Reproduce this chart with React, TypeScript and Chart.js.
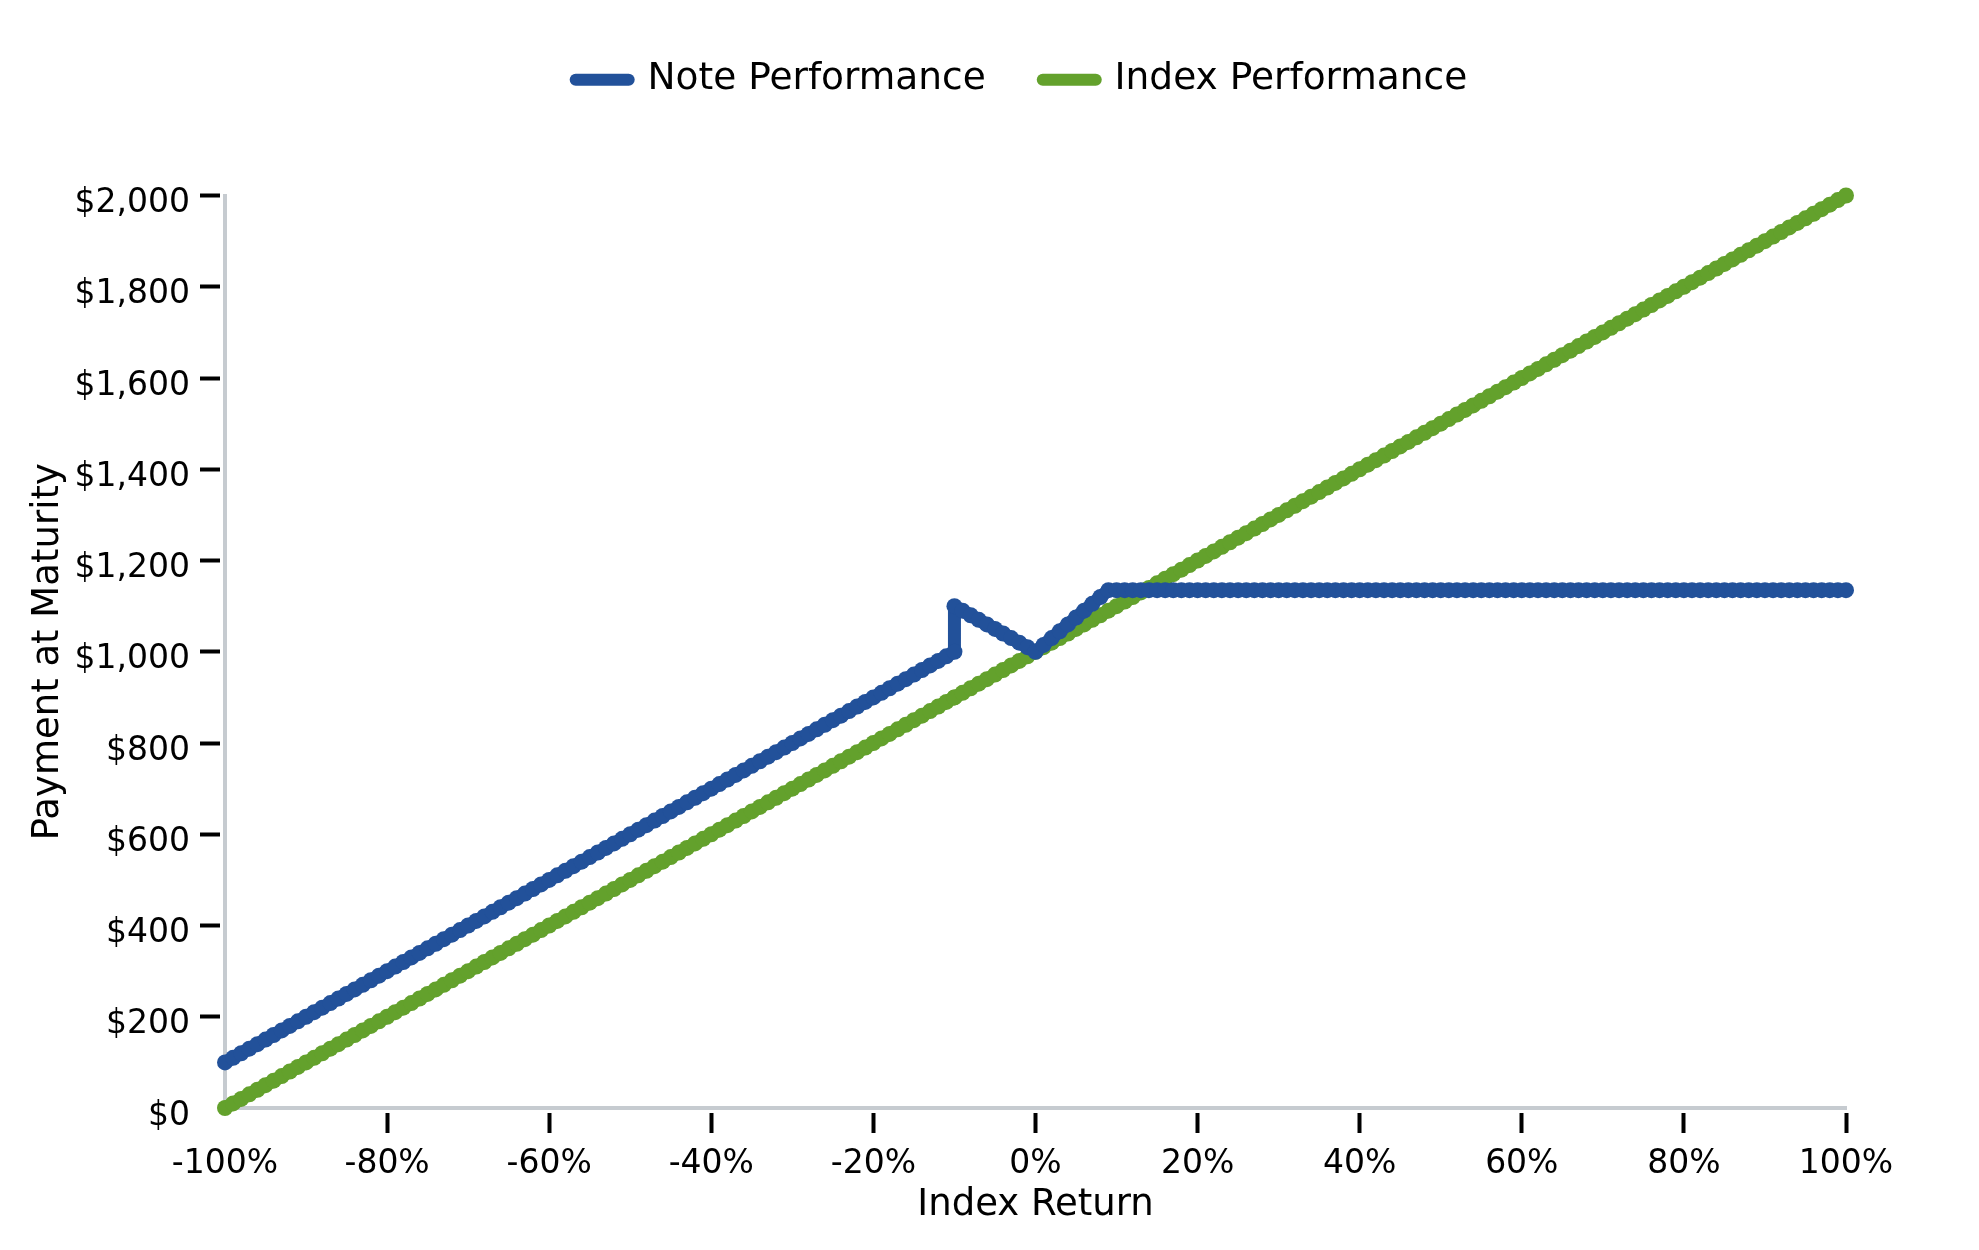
import { useEffect, useRef } from "react";
import { Chart, registerables } from "chart.js";

Chart.register(...registerables);

// Index return (%) per point. -10 is listed twice so the note's jump at -10% is vertical.
const returns = [
  -100, -99, -98, -97, -96, -95, -94, -93, -92, -91,
  -90, -89, -88, -87, -86, -85, -84, -83, -82, -81,
  -80, -79, -78, -77, -76, -75, -74, -73, -72, -71,
  -70, -69, -68, -67, -66, -65, -64, -63, -62, -61,
  -60, -59, -58, -57, -56, -55, -54, -53, -52, -51,
  -50, -49, -48, -47, -46, -45, -44, -43, -42, -41,
  -40, -39, -38, -37, -36, -35, -34, -33, -32, -31,
  -30, -29, -28, -27, -26, -25, -24, -23, -22, -21,
  -20, -19, -18, -17, -16, -15, -14, -13, -12, -11,
  -10, -10, -9, -8, -7, -6, -5, -4, -3, -2, -1,
  0, 1, 2, 3, 4, 5, 6, 7, 8, 9,
  10, 11, 12, 13, 14, 15, 16, 17, 18, 19,
  20, 21, 22, 23, 24, 25, 26, 27, 28, 29,
  30, 31, 32, 33, 34, 35, 36, 37, 38, 39,
  40, 41, 42, 43, 44, 45, 46, 47, 48, 49,
  50, 51, 52, 53, 54, 55, 56, 57, 58, 59,
  60, 61, 62, 63, 64, 65, 66, 67, 68, 69,
  70, 71, 72, 73, 74, 75, 76, 77, 78, 79,
  80, 81, 82, 83, 84, 85, 86, 87, 88, 89,
  90, 91, 92, 93, 94, 95, 96, 97, 98, 99,
  100,
];

// Payment at maturity of the note ($)
const noteValues = [
  100, 110, 120, 130, 140, 150, 160, 170, 180, 190,
  200, 210, 220, 230, 240, 250, 260, 270, 280, 290,
  300, 310, 320, 330, 340, 350, 360, 370, 380, 390,
  400, 410, 420, 430, 440, 450, 460, 470, 480, 490,
  500, 510, 520, 530, 540, 550, 560, 570, 580, 590,
  600, 610, 620, 630, 640, 650, 660, 670, 680, 690,
  700, 710, 720, 730, 740, 750, 760, 770, 780, 790,
  800, 810, 820, 830, 840, 850, 860, 870, 880, 890,
  900, 910, 920, 930, 940, 950, 960, 970, 980, 990,
  1000, 1100, 1090, 1080, 1070, 1060, 1050, 1040, 1030, 1020, 1010,
  1000, 1015, 1030, 1045, 1060, 1075, 1090, 1105, 1120, 1135,
  1135, 1135, 1135, 1135, 1135, 1135, 1135, 1135, 1135, 1135,
  1135, 1135, 1135, 1135, 1135, 1135, 1135, 1135, 1135, 1135,
  1135, 1135, 1135, 1135, 1135, 1135, 1135, 1135, 1135, 1135,
  1135, 1135, 1135, 1135, 1135, 1135, 1135, 1135, 1135, 1135,
  1135, 1135, 1135, 1135, 1135, 1135, 1135, 1135, 1135, 1135,
  1135, 1135, 1135, 1135, 1135, 1135, 1135, 1135, 1135, 1135,
  1135, 1135, 1135, 1135, 1135, 1135, 1135, 1135, 1135, 1135,
  1135, 1135, 1135, 1135, 1135, 1135, 1135, 1135, 1135, 1135,
  1135, 1135, 1135, 1135, 1135, 1135, 1135, 1135, 1135, 1135,
  1135,
];

// Value of a direct investment in the index ($)
const indexValues = [
  0, 10, 20, 30, 40, 50, 60, 70, 80, 90,
  100, 110, 120, 130, 140, 150, 160, 170, 180, 190,
  200, 210, 220, 230, 240, 250, 260, 270, 280, 290,
  300, 310, 320, 330, 340, 350, 360, 370, 380, 390,
  400, 410, 420, 430, 440, 450, 460, 470, 480, 490,
  500, 510, 520, 530, 540, 550, 560, 570, 580, 590,
  600, 610, 620, 630, 640, 650, 660, 670, 680, 690,
  700, 710, 720, 730, 740, 750, 760, 770, 780, 790,
  800, 810, 820, 830, 840, 850, 860, 870, 880, 890,
  900, 900, 910, 920, 930, 940, 950, 960, 970, 980, 990,
  1000, 1010, 1020, 1030, 1040, 1050, 1060, 1070, 1080, 1090,
  1100, 1110, 1120, 1130, 1140, 1150, 1160, 1170, 1180, 1190,
  1200, 1210, 1220, 1230, 1240, 1250, 1260, 1270, 1280, 1290,
  1300, 1310, 1320, 1330, 1340, 1350, 1360, 1370, 1380, 1390,
  1400, 1410, 1420, 1430, 1440, 1450, 1460, 1470, 1480, 1490,
  1500, 1510, 1520, 1530, 1540, 1550, 1560, 1570, 1580, 1590,
  1600, 1610, 1620, 1630, 1640, 1650, 1660, 1670, 1680, 1690,
  1700, 1710, 1720, 1730, 1740, 1750, 1760, 1770, 1780, 1790,
  1800, 1810, 1820, 1830, 1840, 1850, 1860, 1870, 1880, 1890,
  1900, 1910, 1920, 1930, 1940, 1950, 1960, 1970, 1980, 1990,
  2000,
];

const xTicks = [-100, -80, -60, -40, -20, 0, 20, 40, 60, 80, 100];
const yTicks = [0, 200, 400, 600, 800, 1000, 1200, 1400, 1600, 1800, 2000];

const BLUE = "#22519a";
const GREEN = "#63a12c";
const AXIS_GRAY = "#c6cbd0";
const LINE_WIDTH = 13;

Chart.defaults.font.family = "'DejaVu Sans', sans-serif";
Chart.defaults.color = "#000";

// nudge the legend a little left of the plot centre, like the original
const legendNudge = {
  id: "legendNudge",
  afterLayout(chart: any) {
    if (!chart.legend) return;
    chart.legend.left -= 14;
    chart.legend.right -= 14;
  },
};

const PayoffChart = () => {
  const canvasRef = useRef<HTMLCanvasElement | null>(null);
  const chartRef = useRef<Chart | null>(null);

  useEffect(() => {
    if (!canvasRef.current) return;
    document.body.style.margin = "0";

    if (chartRef.current) {
      chartRef.current.destroy();
    }

    const toPoints = (values: number[]) => values.map((y, i) => ({ x: returns[i], y }));

    const lineStyle = (color: string) => ({
      borderColor: color,
      backgroundColor: color,
      borderWidth: LINE_WIDTH,
      borderCapStyle: "round" as const,
      borderJoinStyle: "round" as const,
      pointRadius: 8,
      pointHoverRadius: 8,
      pointBackgroundColor: color,
      pointBorderWidth: 0,
      tension: 0,
      clip: false as const,
    });

    // no tick mark where the two axes meet
    const tickColor = (ctx: any) => (ctx.index === 0 ? "rgba(0,0,0,0)" : "#000");

    chartRef.current = new Chart(canvasRef.current, {
      type: "line",
      data: {
        datasets: [
          { label: "Note Performance", data: toPoints(noteValues), ...lineStyle(BLUE) },
          { label: "Index Performance", data: toPoints(indexValues), ...lineStyle(GREEN) },
        ],
      },
      options: {
        responsive: true,
        maintainAspectRatio: false,
        animation: false,
        events: [],
        layout: { padding: { top: 4, right: 133, bottom: 0, left: 0 } },
        plugins: {
          legend: {
            position: "top",
            fullSize: false,
            labels: {
              usePointStyle: true,
              pointStyle: "line",
              pointStyleWidth: 53,
              padding: 57,
              color: "#000",
              font: { size: 37.5 },
              // point borders are 0, so give the legend lines their own stroke
              generateLabels: (chart) =>
                Chart.defaults.plugins.legend.labels.generateLabels(chart).map((item) => ({
                  ...item,
                  lineWidth: 12,
                  strokeStyle: item.fillStyle,
                  lineCap: "round",
                })),
            },
          },
          // empty title, only keeps the gap between legend and plot
          title: {
            display: true,
            text: "",
            weight: 500,
            padding: { top: 0, bottom: 75 },
            font: { size: 10 },
          },
          tooltip: { enabled: false },
        },
        scales: {
          x: {
            type: "linear",
            min: -100,
            max: 100,
            afterFit: (scale) => {
              scale.height = 142;
            },
            afterBuildTicks: (scale) => {
              scale.ticks = xTicks.map((value) => ({ value }));
            },
            ticks: {
              callback: (v) => `${v}%`,
              color: "#000",
              font: { size: 33 },
              padding: 12,
              autoSkip: false,
              maxRotation: 0,
            },
            grid: {
              drawOnChartArea: false,
              tickLength: 25,
              tickWidth: 4,
              tickColor,
              tickBorderDash: [20, 3],
              tickBorderDashOffset: 20,
            },
            border: { color: AXIS_GRAY, width: 4 },
            title: {
              display: true,
              text: "Index Return",
              color: "#000",
              font: { size: 37 },
              padding: { top: 0, bottom: 22 },
            },
          },
          y: {
            type: "linear",
            min: 0,
            max: 2000,
            afterFit: (scale) => {
              scale.width = 225;
            },
            afterBuildTicks: (scale) => {
              scale.ticks = yTicks.map((value) => ({ value }));
            },
            ticks: {
              callback: (v) => "$" + Number(v).toLocaleString("en-US"),
              color: "#000",
              font: { size: 33 },
              padding: 10,
              labelOffset: 8,
              autoSkip: false,
            },
            grid: {
              drawOnChartArea: false,
              tickLength: 25,
              tickWidth: 4,
              tickColor,
              tickBorderDash: [20, 3],
              tickBorderDashOffset: 0,
            },
            border: { color: AXIS_GRAY, width: 4 },
            title: {
              display: true,
              text: "Payment at Maturity",
              color: "#000",
              font: { size: 37 },
              padding: { top: 26, bottom: 0 },
            },
          },
        },
      },
      plugins: [legendNudge],
    });

    return () => {
      if (chartRef.current) {
        chartRef.current.destroy();
        chartRef.current = null;
      }
    };
  }, []);

  return (
    <div style={{ position: "relative", width: "1979px", height: "1250px", background: "#fff" }}>
      <canvas ref={canvasRef}></canvas>
    </div>
  );
};

export default function App() {
  return <PayoffChart />;
}
